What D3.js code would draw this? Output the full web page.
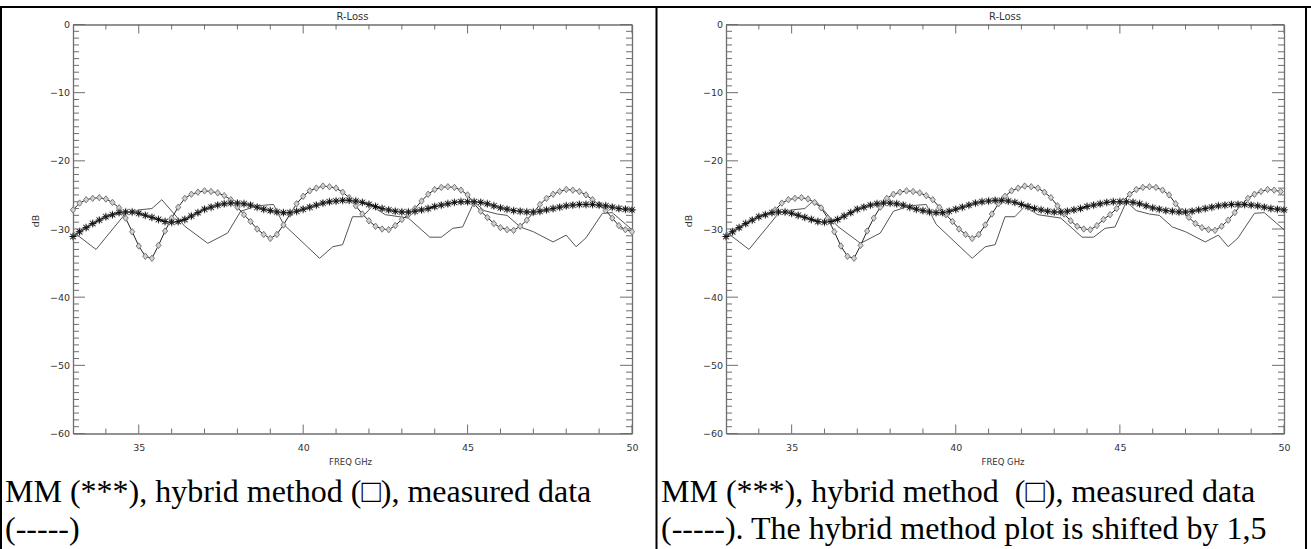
<!DOCTYPE html>
<html><head><meta charset="utf-8">
<script src="https://cdn.jsdelivr.net/npm/d3@7"></script>
<style>
html,body{margin:0;padding:0;background:#fff;}
svg{display:block;}
</style></head>
<body>
<svg id="chart" width="1311" height="549"></svg>
<script>
// ---------------- DATA ----------------
const freqGrid = [
 33.0,33.2,33.4,33.6,33.8,34.0,34.2,34.4,34.6,34.8,
 35.0,35.2,35.4,35.6,35.8,36.0,36.2,36.4,36.6,36.8,
 37.0,37.2,37.4,37.6,37.8,38.0,38.2,38.4,38.6,38.8,
 39.0,39.2,39.4,39.6,39.8,40.0,40.2,40.4,40.6,40.8,
 41.0,41.2,41.4,41.6,41.8,42.0,42.2,42.4,42.6,42.8,
 43.0,43.2,43.4,43.6,43.8,44.0,44.2,44.4,44.6,44.8,
 45.0,45.2,45.4,45.6,45.8,46.0,46.2,46.4,46.6,46.8,
 47.0,47.2,47.4,47.6,47.8,48.0,48.2,48.4,48.6,48.8,
 49.0,49.2,49.4,49.6,49.8,50.0];

const mmValues = [
 -31.1,-30.4,-29.8,-29.2,-28.7,-28.2,-27.9,-27.6,-27.5,-27.5,
 -27.7,-28.0,-28.3,-28.6,-28.9,-29.0,-28.9,-28.6,-28.1,-27.6,
 -27.1,-26.8,-26.5,-26.3,-26.2,-26.2,-26.3,-26.5,-26.8,-27.1,
 -27.3,-27.5,-27.6,-27.6,-27.4,-27.1,-26.8,-26.5,-26.2,-26.0,
 -25.9,-25.8,-25.8,-25.9,-26.1,-26.4,-26.7,-27.0,-27.2,-27.4,
 -27.5,-27.5,-27.4,-27.2,-27.0,-26.7,-26.5,-26.3,-26.1,-26.0,
 -26.0,-26.0,-26.1,-26.3,-26.6,-26.9,-27.1,-27.3,-27.4,-27.5,
 -27.5,-27.4,-27.2,-27.0,-26.8,-26.6,-26.5,-26.4,-26.4,-26.4,
 -26.5,-26.6,-26.8,-27.0,-27.1,-27.2];

const hybridValues = [
 -27.2,-26.2,-25.7,-25.5,-25.4,-25.6,-26.1,-26.9,-28.4,-30.4,
 -32.5,-34.0,-34.3,-32.4,-30.3,-28.4,-26.8,-25.5,-24.9,-24.6,
 -24.4,-24.5,-24.7,-25.1,-25.7,-26.8,-27.9,-28.9,-30.0,-30.8,
 -31.4,-30.8,-29.4,-27.8,-26.3,-25.2,-24.4,-24.0,-23.7,-23.8,
 -24.0,-24.6,-25.4,-26.6,-27.8,-28.8,-29.6,-30.0,-30.1,-29.5,
 -28.6,-27.9,-27.0,-25.9,-24.9,-24.2,-23.9,-23.8,-23.9,-24.3,
 -25.0,-26.3,-27.4,-28.3,-29.2,-29.8,-30.1,-30.2,-29.6,-28.7,
 -27.6,-26.4,-25.5,-24.9,-24.5,-24.2,-24.3,-24.5,-25.0,-25.7,
 -26.4,-27.3,-28.4,-29.5,-30.1,-30.4];

const measuredFreq = [33.0,33.7,34.6,35.0,35.4,35.7,36.4,37.1,37.7,38.1,38.6,39.1,39.4,40.5,40.9,41.2,41.5,41.8,42.1,42.5,43.2,43.85,44.2,44.55,44.85,45.2,45.5,45.9,46.2,46.6,47.0,47.6,48.0,48.3,48.6,49.1,49.4,50.0];
const measuredValues = [-30.4,-33.0,-27.7,-27.2,-27.0,-25.7,-29.6,-32.1,-30.6,-27.4,-26.6,-26.4,-29.3,-34.3,-32.6,-32.3,-28.2,-28.2,-26.7,-27.9,-28.4,-31.2,-31.2,-29.9,-29.7,-26.0,-27.3,-27.8,-28.0,-29.7,-30.4,-31.9,-30.9,-32.6,-31.3,-27.7,-27.6,-30.1];

const hybridShiftGHz = [0, 1.5];          // left panel: no shift, right panel: shifted by 1,5
const xTickValues = [35, 40, 45, 50];
const yTickValues = [0, -10, -20, -30, -40, -50, -60];
const xDomain = [33, 50];
const yDomain = [-60, 0];
const panelTitle = "R-Loss";
const xLabel = "FREQ GHz";
const yLabel = "dB";
const captionLines = [
  ["MM (***), hybrid method (\u25A1), measured data", "(-----)"],
  ["MM (***), hybrid method  (\u25A1), measured data", "(-----). The hybrid method plot is shifted by 1,5"]
];

// ---------------- LAYOUT ----------------
const svg = d3.select("#chart");
const panels = [
  {x0: 73, x1: 632, textX: 5},
  {x0: 726, x1: 1284, textX: 661}
];
const yTop = 24.5, yBot = 433.5;
const axisColor = "#6e6e6e";
const labelFont = "'DejaVu Sans', sans-serif";

// table borders
svg.append("rect").attr("x",0).attr("y",6).attr("width",1311).attr("height",2).attr("fill","#000");
svg.append("rect").attr("x",0).attr("y",6).attr("width",2).attr("height",549).attr("fill","#000");
svg.append("rect").attr("x",655.5).attr("y",6).attr("width",2).attr("height",549).attr("fill","#000");
svg.append("rect").attr("x",1305).attr("y",6).attr("width",2).attr("height",549).attr("fill","#000");

function asteriskPath(r){
  const d = r*0.72;
  return `M${-r},0L${r},0M0,${-r}L0,${r}M${-d},${-d}L${d},${d}M${-d},${d}L${d},${-d}`;
}
function diamondPath(w,h){
  return `M0,${-h}L${w},0L0,${h}L${-w},0Z`;
}

panels.forEach((p, i) => {
  const g = svg.append("g");
  const x = d3.scaleLinear().domain(xDomain).range([p.x0, p.x1]);
  const y = d3.scaleLinear().domain(yDomain).range([yBot, yTop]);

  const xMinor = d3.range(34, 50, 1).filter(v => !xTickValues.includes(v));
  const yMinor = d3.range(-59, 0, 1).filter(v => v % 10 !== 0);

  const axB = g.append("g").attr("transform", `translate(0,${yBot})`)
    .call(d3.axisBottom(x).tickValues(xTickValues).tickSize(0).tickPadding(11)
      .tickFormat(d3.format("d")));
  const axT = g.append("g").attr("transform", `translate(0,${yTop})`)
    .call(d3.axisTop(x).tickValues([]).tickSize(0));
  const axL = g.append("g").attr("transform", `translate(${p.x0},0)`)
    .call(d3.axisLeft(y).tickValues(yTickValues).tickSize(0).tickPadding(3)
      .tickFormat(d => d === 0 ? "0" : "\u2212" + Math.abs(d)));
  const axR = g.append("g").attr("transform", `translate(${p.x1},0)`)
    .call(d3.axisRight(y).tickValues([]).tickSize(0));
  [axB, axT, axL, axR].forEach(a => {
    a.select(".domain").attr("stroke", axisColor).attr("stroke-width", 1.3);
    a.selectAll("text").attr("font-family", labelFont).attr("font-size", 9.5).attr("fill", "#333");
  });

  const tk = g.append("g").attr("stroke", axisColor).attr("stroke-width", 1);
  xTickValues.concat(xMinor).forEach(v => {
    const len = xTickValues.includes(v) ? 9 : 5;
    tk.append("line").attr("x1", x(v)).attr("x2", x(v)).attr("y1", yBot).attr("y2", yBot - len);
    tk.append("line").attr("x1", x(v)).attr("x2", x(v)).attr("y1", yTop).attr("y2", yTop + len);
  });
  yTickValues.concat(yMinor).forEach(v => {
    const len = yTickValues.includes(v) ? 12 : 6;
    tk.append("line").attr("y1", y(v)).attr("y2", y(v)).attr("x1", p.x0).attr("x2", p.x0 + len);
    tk.append("line").attr("y1", y(v)).attr("y2", y(v)).attr("x1", p.x1).attr("x2", p.x1 - len);
  });

  g.append("text").attr("x", (p.x0 + p.x1) / 2).attr("y", 20).attr("text-anchor", "middle")
    .attr("font-family", labelFont).attr("font-size", 10).attr("fill", "#333").text(panelTitle);
  g.append("text").attr("x", (p.x0 + p.x1) / 2 - 2).attr("y", 465).attr("text-anchor", "middle")
    .attr("font-family", labelFont).attr("font-size", 8.5).attr("fill", "#333").text(xLabel);
  g.append("text").attr("transform", `translate(${p.x0 - 34},221) rotate(-90)`).attr("text-anchor", "middle")
    .attr("font-family", labelFont).attr("font-size", 9.5).attr("fill", "#333").text(yLabel);

  const plot = g.append("g");
  const line = d3.line().x(d => x(d[0])).y(d => y(d[1]));

  const meas = measuredFreq.map((f, k) => [f, measuredValues[k]]);
  plot.append("path").datum(meas).attr("d", line).attr("fill", "none")
    .attr("stroke", "#555").attr("stroke-width", 1);

  const hyb = freqGrid.map((f, k) => [f + hybridShiftGHz[i], hybridValues[k]])
    .filter(d => d[0] <= xDomain[1] + 1e-9);
  plot.append("path").datum(hyb).attr("d", line).attr("fill", "none")
    .attr("stroke", "#222").attr("stroke-width", 1);
  plot.selectAll(".dia").data(hyb).enter().append("path")
    .attr("transform", d => `translate(${x(d[0])},${y(d[1])})`)
    .attr("d", diamondPath(2.6, 3.2)).attr("fill", "#d0d0d0").attr("stroke", "#7a7a7a").attr("stroke-width", 1);

  const mm = freqGrid.map((f, k) => [f, mmValues[k]]);
  plot.append("path").datum(mm).attr("d", line).attr("fill", "none")
    .attr("stroke", "#000").attr("stroke-width", 1.6);
  plot.selectAll(".ast2").data(mm).enter().append("path")
    .attr("transform", d => `translate(${x(d[0])},${y(d[1])})`)
    .attr("d", asteriskPath(4.2)).attr("stroke", "#9a9a9a").attr("stroke-width", 1.2).attr("fill", "none");
  plot.selectAll(".ast").data(mm).enter().append("path")
    .attr("transform", d => `translate(${x(d[0])},${y(d[1])})`)
    .attr("d", asteriskPath(3.2)).attr("stroke", "#111").attr("stroke-width", 1).attr("fill", "none");

  captionLines[i].forEach((t, k) => {
    svg.append("text").attr("x", p.textX).attr("y", 502 + k * 37)
      .attr("font-family", "'Liberation Serif', 'Times New Roman', serif").attr("font-size", 32)
      .attr("fill", "#000").style("white-space", "pre").text(t);
  });
});
</script>
</body></html>
